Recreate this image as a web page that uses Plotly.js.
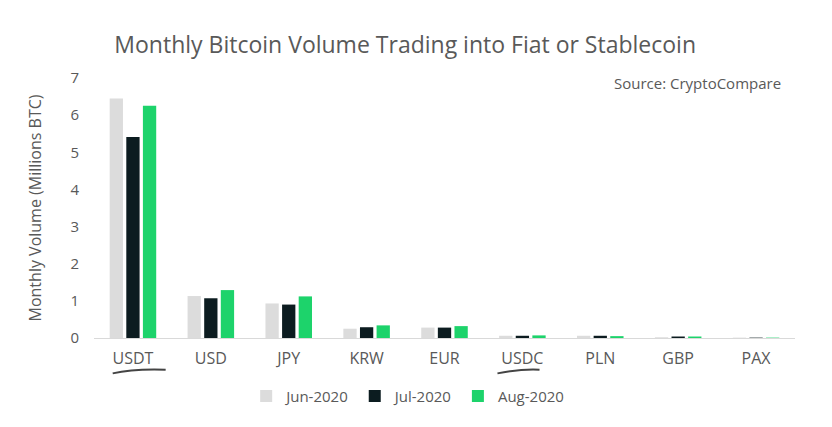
<!DOCTYPE html>
<html>
<head>
<meta charset="utf-8">
<script src="https://cdn.plot.ly/plotly-3.0.1.min.js"></script>
<style>
  html, body { margin: 0; padding: 0; background: #fff; }
  #plot { width: 832px; height: 427px; }
</style>
</head>
<body>
<div id="plot"></div>
<script>
const categories = ['USDT', 'USD', 'JPY', 'KRW', 'EUR', 'USDC', 'PLN', 'GBP', 'PAX'];
const jun2020 = [6.45, 1.13, 0.93, 0.25, 0.28, 0.06, 0.06, 0.02, 0.01];
const jul2020 = [5.41, 1.07, 0.90, 0.29, 0.28, 0.06, 0.06, 0.04, 0.01];
const aug2020 = [6.25, 1.29, 1.12, 0.34, 0.32, 0.07, 0.05, 0.04, 0.01];
const yTicks = [0, 1, 2, 3, 4, 5, 6, 7];

const FONT = '"Open Sans", "Noto Sans", sans-serif';

const series = [
  { name: 'Jun-2020', y: jun2020, color: '#dcdcdc' },
  { name: 'Jul-2020', y: jul2020, color: '#0c1c20' },
  { name: 'Aug-2020', y: aug2020, color: '#1dd36b' }
];

const data = series.map(s => ({
  type: 'bar', name: s.name,
  x: categories, y: s.y,
  marker: { color: s.color },
  hoverinfo: 'x+y+name'
}));

// hand-drawn style underline under USDT and USDC
const underline = (cat, left, right) => {
  const i = categories.indexOf(cat);
  return {
    type: 'path', xref: 'x', yref: 'paper',
    path: `M ${i - left},-0.136 Q ${i},-0.118 ${i + right},-0.122`,
    line: { color: '#444', width: 2 }
  };
};

const layout = {
  width: 832, height: 427,
  paper_bgcolor: '#fff', plot_bgcolor: '#fff',
  font: { family: FONT, color: '#595959', size: 14 },
  title: {
    text: 'Monthly Bitcoin Volume Trading into Fiat or Stablecoin',
    font: { family: FONT, size: 23, color: '#595959' },
    x: 0.487, xanchor: 'center', y: 0.895, yanchor: 'middle'
  },
  barmode: 'group', bargap: 0.36, bargroupgap: 0.2,
  margin: { l: 94, r: 37, t: 78, b: 89, autoexpand: false },
  xaxis: {
    type: 'category', showgrid: false, zeroline: false,
    showline: true, linecolor: '#d9d9d9', linewidth: 1,
    ticks: '', tickfont: { size: 16, color: '#595959' }, ticklabelstandoff: 6
  },
  yaxis: {
    range: [0, 7], tickvals: yTicks, showgrid: false, zeroline: false,
    showline: false, ticks: '', tickfont: { size: 15, color: '#595959' },
    ticklabelstandoff: 14,
    title: { text: 'Monthly Volume (Millions BTC)', font: { size: 16, color: '#595959' }, standoff: 24 }
  },
  legend: {
    orientation: 'h', x: 0.49, xanchor: 'center', xref: 'container',
    y: 0.072, yanchor: 'middle', yref: 'container',
    font: { size: 15, color: '#595959' }, itemwidth: 30, traceorder: 'normal'
  },
  annotations: [{
    text: 'Source: CryptoCompare', xref: 'paper', yref: 'paper',
    x: 1.0, xanchor: 'right', xshift: -12, y: 0.98, yanchor: 'middle',
    showarrow: false, font: { size: 15, color: '#595959' }
  }],
  shapes: [underline('USDT', 0.26, 0.42), underline('USDC', 0.32, 0.22)],
  showlegend: true
};

Plotly.newPlot('plot', data, layout, { displayModeBar: false, staticPlot: true });
</script>
</body>
</html>
